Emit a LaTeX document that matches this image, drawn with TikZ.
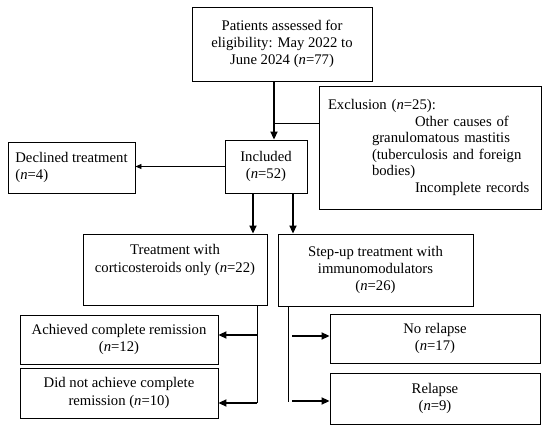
\documentclass[tikz,border=0pt]{standalone}
\usepackage{fontspec}
\setmainfont{Liberation Serif}
\usetikzlibrary{arrows.meta}

\begin{document}
\begin{tikzpicture}[x=1pt, y=-1pt,
    box/.style={draw, line width=0.9pt, inner sep=0pt, align=center,
        font=\fontsize{14.7}{17.2}\selectfont},
    bigarrow/.style={-{Triangle[length=8pt,width=7pt]}, line width=1.9pt},
    smallarrow/.style={-{Triangle[length=6pt,width=5pt]}, line width=0.8pt},
    link/.style={line width=0.8pt}]
    \useasboundingbox (0,0) rectangle (550,430);

    % Top of the chart
    \node[box, minimum width=180pt, minimum height=74pt] (assessed) at (282,44)
        {Patients assessed for\\eligibility: May 2022 to\\June 2024 (\textit{n}=77)};
    \node[box, align=left, text width=204pt, inner xsep=9pt, minimum height=123pt,
        font=\fontsize{14.7}{16.5}\selectfont] (exclusion) at (430,147.5)
        {Exclusion (\textit{n}=25):\\
         \hspace*{87pt}Other causes of\\
         \hspace*{44pt}granulomatous mastitis\\
         \hspace*{44pt}(tuberculosis and foreign\\
         \hspace*{44pt}bodies)\\
         \hspace*{87pt}Incomplete records};
    \node[box, minimum width=82pt, minimum height=53pt] (included) at (266,166.5)
        {Included\\(\textit{n}=52)};
    \node[box, align=left, minimum width=127pt, minimum height=51pt] (declined) at (71.5,167.5)
        {Declined treatment\\(\textit{n}=4)};

    % Treatment arms
    \node[box, minimum width=184pt, minimum height=71pt] (cortico) at (175,269.5)
        {Treatment with\\corticosteroids only (\textit{n}=22)\\\strut};
    \node[box, minimum width=195pt, minimum height=72pt] (stepup) at (375.5,270)
        {Step-up treatment with\\immunomodulators\\(\textit{n}=26)};

    % Outcomes
    \node[box, minimum width=198pt, minimum height=49pt] (achieved) at (119,339.5)
        {Achieved complete remission\\(\textit{n}=12)};
    \node[box, minimum width=198pt, minimum height=50pt] (notachieved) at (119,393)
        {Did not achieve complete\\remission (\textit{n}=10)};
    \node[box, minimum width=210pt, minimum height=49pt] (norelapse) at (435,338.5)
        {No relapse\\(\textit{n}=17)};
    \node[box, minimum width=210pt, minimum height=51pt] (relapse) at (435,398.5)
        {Relapse\\(\textit{n}=9)};

    % Branch points
    \coordinate (trunk) at (274,123);
    \coordinate (leftdrop) at (253,0);
    \coordinate (rightdrop) at (293,0);
    \coordinate (cortbranch) at (257,403);
    \coordinate (c1) at (257,335);
    \coordinate (stepbranch) at (288,402);
    \coordinate (s1) at (292,336);
    \coordinate (s2) at (292,401);

    % Connectors
    \draw[bigarrow] (assessed.south -| trunk) -- (included.north -| trunk);
    \draw[link] (exclusion.west |- trunk) -- (trunk);
    \draw[smallarrow] (included.west) -- (declined.east |- included.west);
    \draw[bigarrow] (included.south -| leftdrop) -- (cortico.north -| leftdrop);
    \draw[bigarrow] (included.south -| rightdrop) -- (stepup.north -| rightdrop);

    \draw[link] (cortico.south -| cortbranch) -- (cortbranch);
    \draw[bigarrow] (c1) -- (c1 -| achieved.east);
    \draw[bigarrow] (cortbranch) -- (cortbranch -| notachieved.east);

    \draw[link] (stepup.south -| stepbranch) -- (stepbranch);
    \draw[bigarrow] (s1) -- (s1 -| norelapse.west);
    \draw[bigarrow] (s2) -- (s2 -| relapse.west);
\end{tikzpicture}
\end{document}
